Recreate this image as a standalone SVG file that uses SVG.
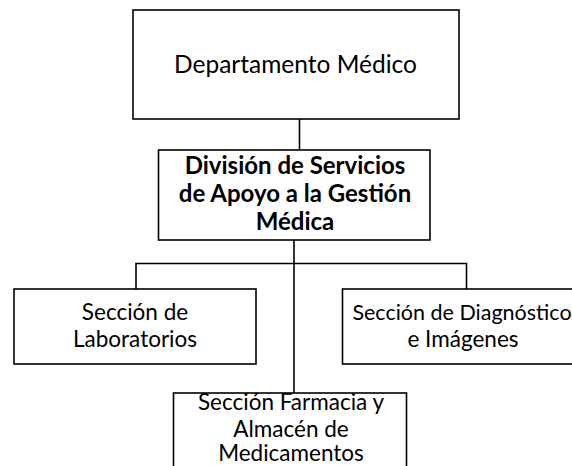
<svg xmlns="http://www.w3.org/2000/svg" width="572" height="466" viewBox="0 0 572 466">
<style>
.box{fill:#fff;stroke:#000;stroke-width:1.6}
.ln{fill:none;stroke:#000;stroke-width:1.6}
text{font-family:Lato,"Open Sans","Liberation Sans",sans-serif;fill:#000;text-anchor:middle}
.t0{font-size:24.5px}
.t1{font-size:24px;font-weight:700}
.t2{font-size:22.5px}
.t3{font-size:21.5px}
</style>
<rect width="572" height="466" fill="#fff"/>
<g id="connectors">
<line class="ln" x1="299.5" y1="119" x2="299.5" y2="150"/>
<line class="ln" x1="294" y1="240" x2="294" y2="393"/>
<polyline class="ln" points="136,289 136,263.5 466.5,263.5 466.5,289"/>
</g>
<g id="departamento">
<rect class="box" x="133" y="10" width="326" height="109"/>
<text class="t0" x="295.5" y="72.5">Departamento Médico</text>
</g>
<g id="division">
<rect class="box" x="158.5" y="150" width="271.5" height="90"/>
<text class="t1" x="295" y="174">División de Servicios</text>
<text class="t1" x="295" y="202">de Apoyo a la Gestión</text>
<text class="t1" x="295" y="230">Médica</text>
</g>
<g id="laboratorios">
<rect class="box" x="14" y="289" width="242" height="75"/>
<text class="t2" x="135" y="320">Sección de</text>
<text class="t2" x="135" y="346.5">Laboratorios</text>
</g>
<g id="diagnostico">
<rect class="box" x="342.5" y="289" width="245" height="75"/>
<text class="t3" x="462" y="320">Sección de Diagnóstico</text>
<text class="t2" x="463" y="346.5">e Imágenes</text>
</g>
<g id="farmacia">
<rect class="box" x="173.5" y="393" width="233" height="80"/>
<text class="t2" x="291" y="410">Sección Farmacia y</text>
<text class="t2" x="291" y="436.5">Almacén de</text>
<text class="t2" x="291" y="461">Medicamentos</text>
</g>
</svg>
